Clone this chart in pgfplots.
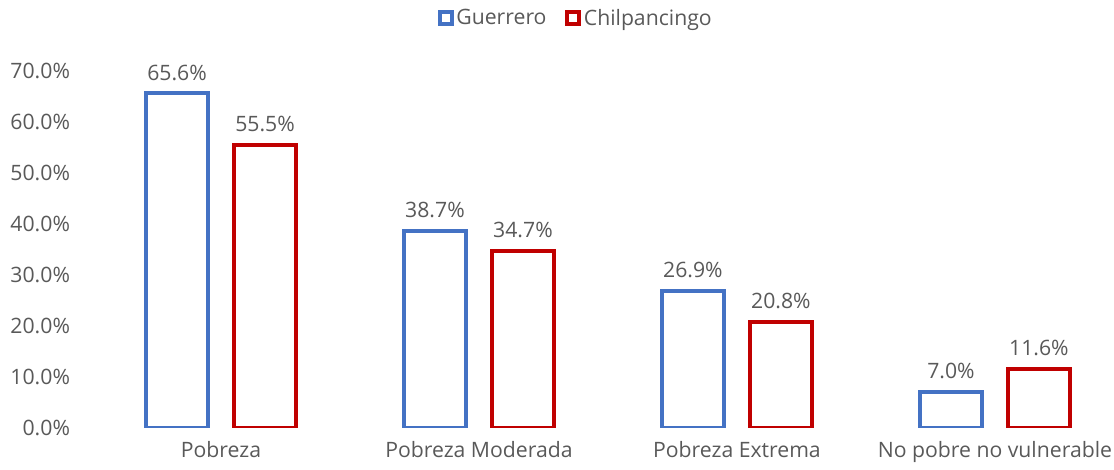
\documentclass[border=0pt]{standalone}
\usepackage{pgfplots}
\pgfplotsset{compat=1.18}
\usepackage{fontspec}
\setmainfont{Open Sans}
\definecolor{gblue}{HTML}{4472C4}
\definecolor{cred}{HTML}{C00000}
\definecolor{txt}{HTML}{595959}
\begin{document}
\begin{tikzpicture}
\path[use as bounding box] (-69pt,-31.5pt) rectangle (766.5pt,321pt);
\begin{axis}[
  scale only axis,
  width=764.25pt, height=267.75pt,
  at={(0,0)}, anchor=south west,
  ymin=0, ymax=70,
  xmin=-0.5, xmax=3.45,
  axis line style={draw=none},
  tick style={draw=none},
  xtick=data,
  xticklabels={Pobreza, Pobreza Moderada, Pobreza Extrema, No pobre no vulnerable},
  ytick={0,10,...,70},
  yticklabel={\pgfmathprintnumber[fixed,fixed zerofill,precision=1]{\tick}\%},
  /pgf/number format/assume math mode=true,
  tick label style={font=\fontsize{15.9pt}{19pt}\selectfont, text=txt},
  yticklabel style={xshift=-13pt},
  xticklabel style={yshift=-2pt},
  ybar, bar width=46.5pt,
  nodes near coords={\pgfmathprintnumber[fixed,fixed zerofill,precision=1]{\pgfplotspointmeta}\%},
  nodes near coords style={font=\fontsize{15.9pt}{19pt}\selectfont, text=txt, yshift=5pt},
  legend style={at={(0.475,1.148)}, anchor=center, draw=none, fill=none,
    font=\fontsize{15.9pt}{19pt}\selectfont, text=txt, legend columns=2,
    /tikz/every even column/.append style={column sep=12pt}},
  legend image code/.code={\draw[#1, line width=3pt, fill=white] (0.5pt,-4.5pt) rectangle (9.5pt,4.5pt);},
]
\addplot[draw=gblue, line width=3pt, fill=none, bar shift=-33pt] coordinates {(0,65.6) (1,38.7) (2,26.9) (3,7.0)};
\addplot[draw=cred, line width=3pt, fill=none, bar shift=33pt] coordinates {(0,55.5) (1,34.7) (2,20.8) (3,11.6)};
\legend{Guerrero, Chilpancingo}
\end{axis}
\end{tikzpicture}
\end{document}
